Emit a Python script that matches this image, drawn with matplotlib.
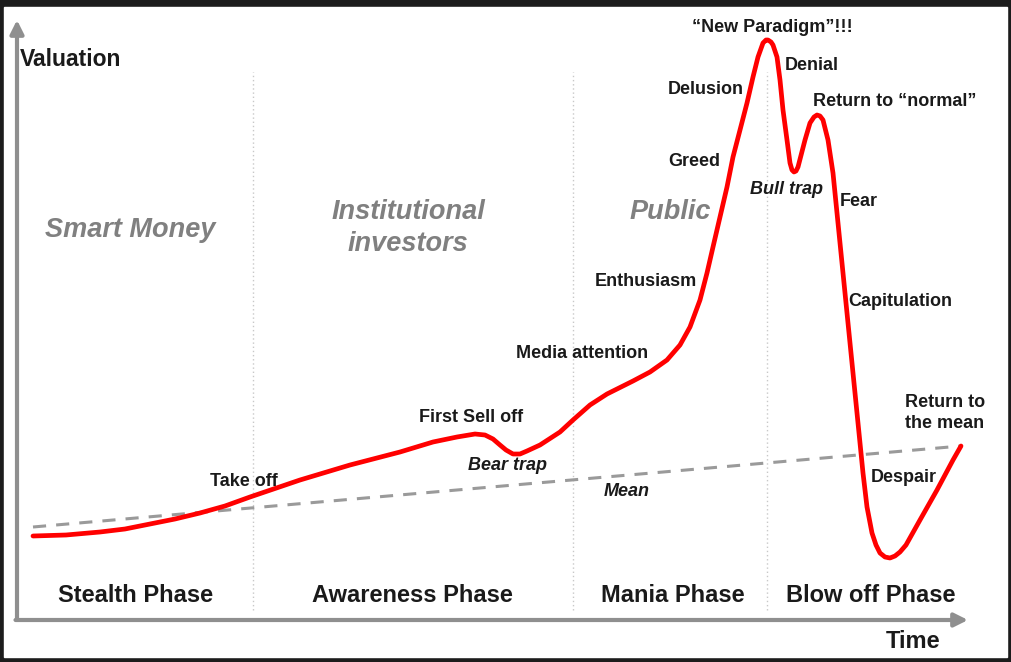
import matplotlib
matplotlib.use("Agg")
import matplotlib.pyplot as plt
from matplotlib.patches import Rectangle

# bubble curve: time, valuation
curve_t = [16, 49, 83, 108, 133, 158, 183, 208, 233, 283, 333, 383, 416, 440,
           458, 468, 476, 483, 489, 496, 503, 510, 523, 543, 556, 573, 590, 616,
           633, 650, 663, 673, 683, 690, 696, 703, 710, 716, 723, 730, 736, 741,
           746, 749, 751, 754, 756, 760, 763, 766, 770, 773, 775, 777, 779, 781,
           788, 793, 797, 800, 803, 806, 811, 816, 821, 826, 831, 836, 841, 846,
           850, 855, 859, 863, 868, 873, 878, 883, 889, 903, 920, 936, 944]
curve_v = [84, 85, 88, 91, 96, 101, 107, 114, 123, 140, 155, 168, 178, 183,
           186, 185, 181, 175, 170, 166, 166, 169, 175, 188, 200, 215, 226, 239,
           248, 260, 275, 293, 320, 347, 373, 403, 433, 463, 490, 517, 543, 563,
           577, 580, 580, 578, 575, 563, 540, 510, 480, 457, 450, 448, 449, 453,
           480, 497, 503, 505, 504, 500, 480, 447, 397, 347, 297, 247, 197, 147,
           113, 87, 75, 67, 63, 62, 64, 68, 75, 100, 130, 160, 174]

mean_t = [16, 944]
mean_v = [93, 174]

phase_bounds = [236, 556, 750]
phase_names = ["Stealth Phase", "Awareness Phase", "Mania Phase", "Blow off Phase"]
phase_centers = [119, 395, 656, 854]

crowd_names = ["Smart Money", "Institutional\ninvestors", "Public"]
crowd_t = [113, 391, 653]
crowd_v = [390, 392, 408]

labels = ["Take off", "First Sell off", "Bear trap", "Mean", "Media attention",
          "Enthusiasm", "Greed", "Delusion", "\u201cNew Paradigm\u201d!!!",
          "Denial", "Return to \u201cnormal\u201d", "Bull trap", "Fear",
          "Capitulation", "Return to\nthe mean", "Despair"]
label_t = [227, 454, 490, 610, 565, 629, 677, 689, 755, 795, 878, 769, 842,
           883, 928, 887]
label_v = [139, 203, 154, 129, 266, 339, 458, 531, 593, 555, 518, 431, 418,
           318, 207, 143]
label_italic = ["Bear trap", "Mean", "Bull trap"]

narrow = ["Liberation Sans Narrow", "Liberation Sans", "DejaVu Sans"]
wide = ["Liberation Sans", "DejaVu Sans"]

fig = plt.figure(figsize=(10.11, 6.62), dpi=100, facecolor="#1c1c1c")
fig.patches.append(Rectangle((4 / 1011, 5 / 662), 1003 / 1011, 650 / 662,
                             transform=fig.transFigure, color="white", zorder=-5))
ax = fig.add_axes([0, 0, 1, 1])
ax.set_zorder(1)
ax.patch.set_alpha(0)
ax.set_xlim(-17, 994)
ax.set_ylim(-42, 620)
ax.axis("off")

# axes arrows
axis_grey = "#8f8f8f"
ax.annotate("", xy=(0, 600), xytext=(0, 0),
            arrowprops=dict(arrowstyle="-|>", color=axis_grey, lw=3,
                            mutation_scale=20, shrinkA=0, shrinkB=0))
ax.annotate("", xy=(951, 0), xytext=(-1.5, 0),
            arrowprops=dict(arrowstyle="-|>", color=axis_grey, lw=3,
                            mutation_scale=20, shrinkA=0, shrinkB=0))

for b in phase_bounds:
    ax.plot([b, b], [10, 548], color="#c8c8c8", lw=1, ls=(0, (1, 2)))

ax.plot(mean_t, mean_v, color="#9a9a9a", lw=2.2, dashes=(4.3, 3.3))
ax.plot(curve_t, curve_v, color="#ff0000", lw=3.4, solid_capstyle="round",
        solid_joinstyle="round")

ax.text(3, 560, "Valuation", fontsize=16.5, fontweight="bold", family=narrow,
        color="#1a1a1a", ha="left", va="center")
ax.text(896, -21, "Time", fontsize=17, fontweight="bold", family=wide,
        color="#1a1a1a", ha="center", va="center")

for name, c in zip(phase_names, phase_centers):
    ax.text(c, 24, name, fontsize=17, fontweight="bold", family=wide,
            color="#1a1a1a", ha="center", va="center")

for name, t, v in zip(crowd_names, crowd_t, crowd_v):
    ax.text(t, v, name, fontsize=19.5, fontweight="bold", style="italic",
            family=wide, color="#808080", ha="center", va="center",
            linespacing=1.3)

for name, t, v in zip(labels, label_t, label_v):
    ax.text(t, v, name, fontsize=13, fontweight="bold",
            style="italic" if name in label_italic else "normal",
            family=narrow, color="#1a1a1a", ha="center", va="center",
            linespacing=1.3)

fig.savefig("out.png", dpi=100, facecolor=fig.get_facecolor())
